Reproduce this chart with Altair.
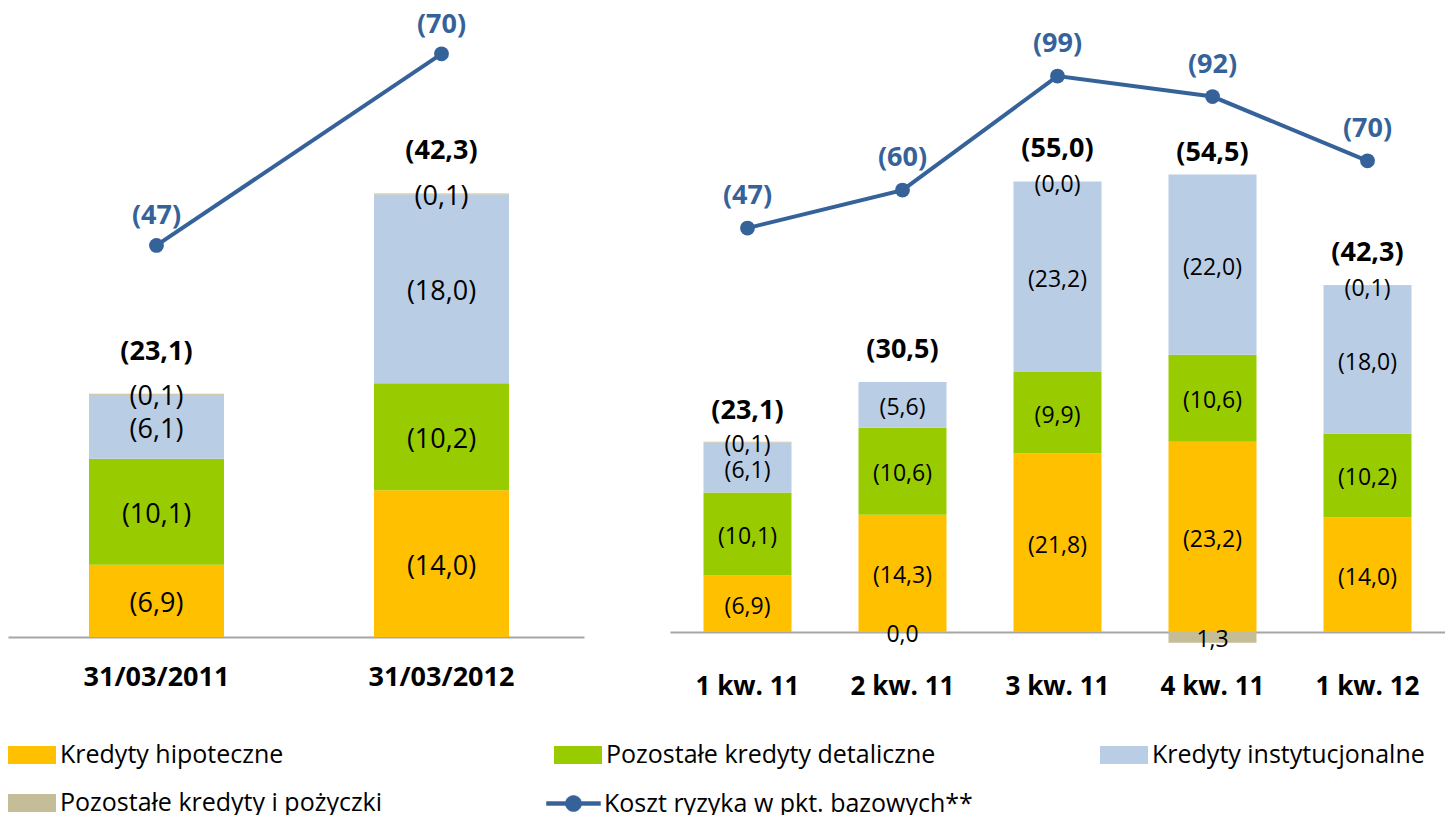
import altair as alt
import pandas as pd

FONT = "Open Sans"
BLUE = "#36629A"
AXIS_GREY = "#A6A6A6"

series = ["Kredyty hipoteczne", "Pozostałe kredyty detaliczne",
          "Kredyty instytucjonalne", "Pozostałe kredyty i pożyczki"]
colors = ["#FFC000", "#99CC00", "#B9CDE5", "#C4BD97"]
risk_name = "Koszt ryzyka w pkt. bazowych**"

# Left panel (year over year)
left_cats = ["31/03/2011", "31/03/2012"]
left_hipoteczne = [6.9, 14.0]
left_detaliczne = [10.1, 10.2]
left_instytucjonalne = [6.1, 18.0]
left_pozostale = [0.1, 0.1]
left_totals = [23.1, 42.3]
left_risk = [47, 70]

# Right panel (quarters)
right_cats = ["1 kw. 11", "2 kw. 11", "3 kw. 11", "4 kw. 11", "1 kw. 12"]
right_hipoteczne = [6.9, 14.3, 21.8, 23.2, 14.0]
right_detaliczne = [10.1, 10.6, 9.9, 10.6, 10.2]
right_instytucjonalne = [6.1, 5.6, 23.2, 22.0, 18.0]
right_pozostale = [0.1, -0.02, 0.03, -1.3, 0.1]
right_totals = [23.1, 30.5, 55.0, 54.5, 42.3]
right_risk = [47, 60, 99, 92, 70]

RECT = "M-1,-0.375H1V0.375H-1Z"
LINESYM = ("M-1,-0.07H1V0.07H-1Z "
           "M-0.3,0A0.3,0.3,0,1,1,0.3,0A0.3,0.3,0,1,1,-0.3,0Z")

LEG_Y = 723
LEG_ROWPAD = 11
LEG_FONT = 25


def fmt(expr):
    return "replace(format(" + expr + ", '.1f'), '.', ',')"


def panel(cats, segs, totals, risk, width, height, bar_max, risk_dom,
          bar_size, seg_font, tot_dy, lbl_dy, axis_font, label_pad, xscale):
    rows = []
    for i, c in enumerate(cats):
        for k, s in enumerate(series):
            rows.append({"cat": c, "series": s, "ord": k, "value": segs[k][i]})
    seg = pd.DataFrame(rows)
    summ = pd.DataFrame({"cat": cats, "total": totals, "risk": risk,
                         "name": [risk_name] * len(cats)})

    x = alt.X("cat:N", sort=cats, scale=xscale,
              axis=alt.Axis(title=None, labelAngle=0, ticks=False, tickSize=0,
                            labelPadding=label_pad, labelFont=FONT,
                            labelFontSize=axis_font, labelFontWeight="bold",
                            labelColor="black", domain=True,
                            domainColor=AXIS_GREY, domainWidth=2, grid=False))
    yscale = alt.Scale(domain=[0, bar_max], nice=False, zero=False)
    rscale = alt.Scale(domain=risk_dom, nice=False, zero=False)

    bars = alt.Chart(seg).mark_bar(size=bar_size).encode(
        x=x,
        y=alt.Y("value:Q", stack="zero", scale=yscale, axis=None),
        fill=alt.Fill("series:N", scale=alt.Scale(domain=series, range=colors),
                      legend=alt.Legend(
                          title=None, orient="none", legendX=0, legendY=LEG_Y,
                          columns=3, direction="horizontal", gridAlign="all",
                          symbolType=RECT,
                          symbolSize=2304, symbolStrokeWidth=0,
                          symbolOpacity=1, labelFont=FONT,
                          labelFontSize=LEG_FONT,
                          labelColor="black", labelOffset=4, labelLimit=800,
                          columnPadding=164, rowPadding=LEG_ROWPAD,
                          padding=0)),
        order=alt.Order("ord:Q", sort="ascending"),
    )

    seg_text = alt.Chart(seg).transform_stack(
        stack="value", groupby=["cat"],
        sort=[alt.SortField("ord", "ascending")], as_=["v0", "v1"]
    ).transform_calculate(
        ly="datum.value > 0 ? (datum.v0 + datum.v1) / 2 : datum.value / 2",
        txt="datum.value < 0 ? " + fmt("-datum.value") + " : '(' + "
            + fmt("datum.value") + " + ')'"
    ).mark_text(font=FONT, fontSize=seg_font, dy=3, color="black").encode(
        x=x, y=alt.Y("ly:Q", scale=yscale, axis=None), text="txt:N")

    tot = alt.Chart(summ).transform_calculate(
        txt="'(' + " + fmt("datum.total") + " + ')'"
    ).mark_text(font=FONT, fontSize=27, fontWeight="bold", dy=tot_dy,
                color="black").encode(
        x=x, y=alt.Y("total:Q", scale=yscale, axis=None), text="txt:N")

    ln = alt.Chart(summ).mark_line(strokeWidth=4).encode(
        x=x, y=alt.Y("risk:Q", scale=rscale, axis=None),
        stroke=alt.Stroke("name:N",
                          scale=alt.Scale(domain=[risk_name], range=[BLUE]),
                          legend=alt.Legend(
                              title=None, orient="none", legendX=538,
                              legendY=LEG_Y + 34 + LEG_ROWPAD,
                              symbolType=LINESYM,
                              symbolSize=2916, symbolFillColor=BLUE,
                              symbolStrokeWidth=0.5, labelFont=FONT,
                              labelFontSize=LEG_FONT, labelColor="black",
                              labelOffset=3, labelLimit=800, padding=0)))
    pts = alt.Chart(summ).mark_circle(size=220, color=BLUE, opacity=1).encode(
        x=x, y=alt.Y("risk:Q", scale=rscale, axis=None))
    lbl = alt.Chart(summ).transform_calculate(
        txt="'(' + datum.risk + ')'"
    ).mark_text(font=FONT, fontSize=27, fontWeight="bold", dy=lbl_dy,
                color=BLUE).encode(
        x=x, y=alt.Y("risk:Q", scale=rscale, axis=None), text="txt:N")

    return alt.layer(bars, seg_text, tot, ln, pts, lbl).resolve_scale(
        y="independent").properties(width=width, height=height)


left = panel(left_cats,
             [left_hipoteczne, left_detaliczne, left_instytucjonalne, left_pozostale],
             left_totals, left_risk, 576, 629, 60.0, [0, 75.5],
             135, 27, -43, -29, 27, 27,
             alt.Scale(paddingInner=0, paddingOuter=0.0105, align=1))
right = panel(right_cats,
              [right_hipoteczne, right_detaliczne, right_instytucjonalne, right_pozostale],
              right_totals, right_risk, 775, 624, 76.1, [-91.2, 122.3],
              88, 23, -32, -32, 26, 41,
              alt.Scale(paddingInner=0, paddingOuter=0))

chart = alt.hconcat(left, right, spacing=86).resolve_scale(
    fill="shared", stroke="shared"
).properties(
    padding={"left": 0, "top": 0, "right": 0, "bottom": 0},
    background="white",
).configure_view(stroke=None)

chart.save("out.html", embed_options={"renderer": "svg", "actions": False})
